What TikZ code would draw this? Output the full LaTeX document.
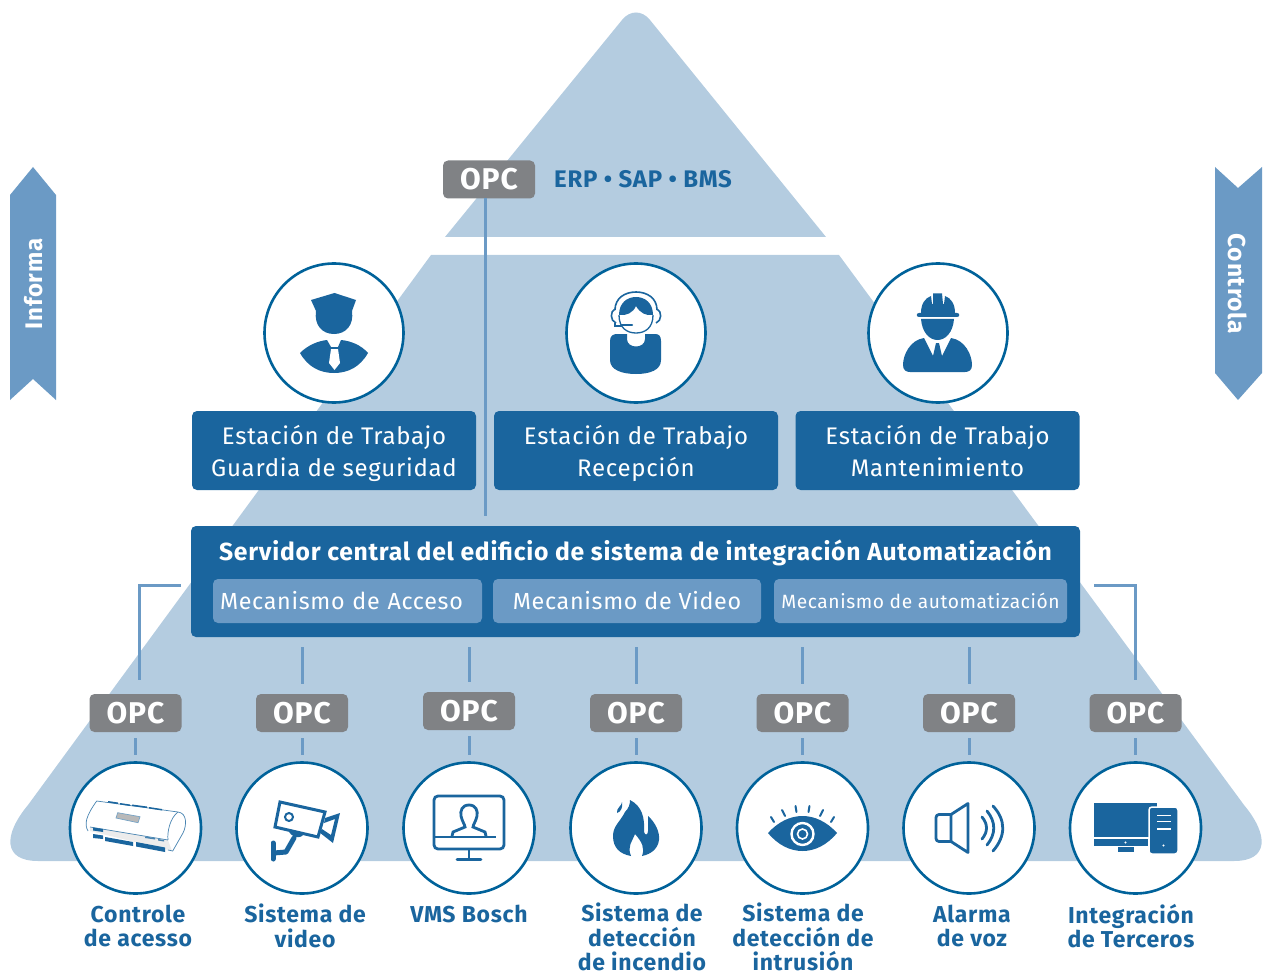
\documentclass[tikz,border=0pt]{standalone}
\usepackage{fontspec}
\setmainfont{Fira Sans}
\newfontfamily\spacedfont[LetterSpace=3]{Fira Sans}
\usetikzlibrary{positioning}
\definecolor{darkblue}{HTML}{1A659E}
\definecolor{ringblue}{HTML}{00629A}
\definecolor{midblue}{HTML}{6B9AC5}
\definecolor{paleblue}{HTML}{B4CCE0}
\definecolor{opcgrey}{HTML}{808285}
\newcommand{\firstline}{\rule{0pt}{30.4pt}}
\tikzset{
	opcbox/.style={fill=opcgrey, rounded corners=5pt, minimum width=92pt, minimum height=38pt, inner sep=0pt, text=white, font=\fontsize{30}{32}\selectfont\spacedfont\bfseries},
	wsbox/.style={fill=darkblue, rounded corners=5pt, minimum width=284pt, minimum height=79pt, inner sep=0pt, text=white, align=center, font=\fontsize{24}{32}\selectfont\spacedfont},
	enginebox/.style={fill=midblue, rounded corners=5pt, minimum height=44pt, inner sep=0pt, text=white, font=\fontsize{23.3}{26}\selectfont\spacedfont},
	topring/.style={circle, draw=ringblue, line width=2.6pt, fill=white, minimum size=139pt, inner sep=0pt},
	lowring/.style={circle, draw=ringblue, line width=2.6pt, fill=white, minimum size=131pt, inner sep=0pt},
	syslabel/.style={text=darkblue, align=center, font=\fontsize{23}{24.5}\selectfont\spacedfont\bfseries, inner sep=0pt},
	wire/.style={draw=midblue, line width=3pt},
}
\begin{document}
\begin{tikzpicture}[x=1pt,y=-1pt]
	\useasboundingbox (0,0) rectangle (1268,973);
	% Pyramid
	\fill[paleblue] (445,237) -- (622,20) .. controls (630,10) and (642,10) .. (650,20) -- (826,237) -- cycle;
	\fill[paleblue] (431,255) -- (839,255) -- (1244,805) .. controls (1269,835) and (1269,861) .. (1234,861)
		-- (38,861) .. controls (3,861) and (3,835) .. (28,805) -- cycle;

	% Side arrows
	\fill[midblue] (10,195) -- (33,167) -- (56,195) -- (56,400) -- (33,379) -- (10,400) -- cycle;
	\node (informa) at (34,284) [rotate=90, text=white, font=\fontsize{24}{26}\selectfont\spacedfont\bfseries] {Informa};
	\fill[midblue] (1215,167) -- (1238,188) -- (1262,167) -- (1262,373) -- (1238,400) -- (1215,373) -- cycle;
	\node (controla) at (1238,284) [rotate=-90, text=white, font=\fontsize{24.5}{26}\selectfont\spacedfont\bfseries] {Controla};

	% Top
	\node[opcbox] (opcTop) at (489,179.5) {OPC};
	\node (erp) at (554,179) [anchor=west, inner sep=0pt, text=darkblue, font=\fontsize{24}{26}\selectfont\spacedfont\bfseries] {ERP • SAP • BMS};

	% Workstations
	\node[topring] (ringGuard) at (334,333) {};
	\node[topring] (ringDesk) at (636,333) {};
	\node[topring] (ringWorker) at (938,333) {};
	\node[wsbox] (wsGuard) at (334,450.5) {\firstline Estación de Trabajo\\\strut Guardia de seguridad};
	\node[wsbox] (wsDesk) at (636,450.5) {\firstline Estación de Trabajo\\\strut Recepción};
	\node[wsbox] (wsWorker) at (937.5,450.5) {\firstline Estación de Trabajo\\\strut Mantenimiento};

	% Server
	\node[fill=darkblue, rounded corners=5pt, minimum width=889pt, minimum height=111pt, inner sep=0pt] (server) at (635.5,581.5) {};
	\node (serverTitle) at (635.5,552.5) [inner sep=0pt, text=white, font=\fontsize{24.7}{26}\selectfont\spacedfont\bfseries] {Servidor central del edificio de sistema de integración Automatización};
	\node[enginebox, minimum width=269pt, text width=255pt, align=left] (engAccess) at (347.5,601) {Mecanismo de Acceso};
	\node[enginebox, minimum width=268pt] (engVideo) at (627,601) {Mecanismo de Video};
	\node[enginebox, minimum width=293pt, font=\fontsize{19.2}{21}\selectfont\spacedfont] (engAuto) at (920.5,601) {Mecanismo de automatización};

	% Link from the top OPC to the server
	\coordinate (tapTop) at (485,198);
	\coordinate (tapServer) at (485,516);
	\draw[wire] (tapTop) -- (tapServer);

	% Lower row
	\foreach \name/\xpos/\ypos in {A/135.5/713, B/302/713, C/469/711, D/636/713, E/802.5/713, F/969/713, G/1135.5/713} {
		\node[opcbox] (opc\name) at (\xpos,\ypos) {OPC};
	}
	\foreach \name/\xpos in {A/135.5, B/302, C/469, D/636, E/802.5, F/969, G/1135.5} {
		\node[lowring] (ring\name) at (\xpos,828) {};
		\draw[wire, shorten <=6pt, shorten >=6.5pt] (opc\name.south) -- (ring\name.north);
	}
	\foreach \name in {B,C,D,E,F} {
		\draw[wire, shorten <=10pt, shorten >=10pt] (opc\name.north) -- (opc\name.north |- server.south);
	}
	% Elbows at the ends
	\coordinate (elbowLa) at (181,585);
	\coordinate (elbowLb) at (139.5,680);
	\coordinate (elbowRa) at (1094,585);
	\coordinate (elbowRb) at (1135,680);
	\draw[wire] (elbowLa) -| (elbowLb);
	\draw[wire] (elbowRa) -| (elbowRb);

	% Labels
	\node[syslabel] (labelA) at (138,926) {Controle\\de acesso};
	\node[syslabel] (labelB) at (305,926) {Sistema de\\video};
	\node[syslabel] (labelC) at (469,913.5) {VMS Bosch};
	\node[syslabel] (labelD) at (642,937) {Sistema de\\detección\\de incendio};
	\node[syslabel] (labelE) at (803,937) {Sistema de\\detección de\\intrusión};
	\node[syslabel] (labelF) at (972,926) {Alarma\\de voz};
	\node[syslabel] (labelG) at (1131,926) {Integración\\de Terceros};

	% Icon: guard
	\fill[darkblue] (334.5,293) -- (356,300) -- (352,311) .. controls (354,325) and (346,334) .. (334,334)
		.. controls (322,334) and (314,325) .. (316,311) -- (311,300) -- cycle;
	\fill[darkblue] (300,353) .. controls (308,345) and (318,341) .. (327,340) -- (331,347) -- (338,347) -- (341,340)
		.. controls (351,341) and (361,345) .. (368,353) .. controls (360,367) and (348,373) .. (334,373)
		.. controls (320,373) and (308,367) .. (300,353) -- cycle;
	\fill[white] (331,349) -- (338,349) -- (340,363) -- (334.5,370) -- (329,363) -- cycle;

	% Icon: reception
	\fill[darkblue] (610,341) .. controls (610,336) and (613,334) .. (617,334) -- (627,334) -- (627,339)
		.. controls (627,349) and (645,349) .. (645,339) -- (645,334) -- (655,334) .. controls (659,334) and (661,336) .. (661,341)
		-- (661,360) .. controls (661,370) and (650,374) .. (636,374) .. controls (622,374) and (610,370) .. (610,360) -- cycle;
	\fill[darkblue] (619,315) .. controls (619,303) and (627,297) .. (636,297) .. controls (645,297) and (653,303) .. (653,315)
		.. controls (646,316) and (640,313) .. (636,306) .. controls (633,313) and (626,316) .. (619,315) -- cycle;
	\draw[darkblue, line width=1.3pt] (619,315) .. controls (619,328) and (627,333) .. (636,333) .. controls (645,333) and (653,328) .. (653,315);
	\draw[darkblue, line width=1.6pt] (615,310) .. controls (615,298) and (625,292) .. (636,292) .. controls (647,292) and (657,298) .. (657,310);
	\draw[darkblue, line width=1.6pt] (615,309) .. controls (610,311) and (610,321) .. (616,323);
	\draw[darkblue, line width=1.6pt] (657,309) .. controls (662,311) and (662,321) .. (656,323);
	\draw[darkblue, line width=1.6pt] (615,323) -- (615,326) -- (622,326);
	\draw[darkblue, line width=2pt, line cap=round] (621,325.5) -- (632,325.5);

	% Icon: maintenance
	\fill[darkblue] (919,313) -- (957,313) .. controls (960,313) and (960,317) .. (957,317) -- (919,317) .. controls (916,317) and (916,313) .. (919,313) -- cycle;
	\fill[darkblue] (921,313) .. controls (921,304) and (925,298) .. (931,296) -- (932,304) -- (933,304) -- (933,293.5) -- (942,293.5) -- (943,304) -- (944,304) -- (945,296)
		.. controls (951,298) and (955,304) .. (955,313) -- cycle;
	\fill[darkblue] (921,319) -- (954,319) .. controls (953,332) and (946,340) .. (937.5,340) .. controls (929,340) and (922,332) .. (921,319) -- cycle;
	\fill[darkblue] (924,338) -- (933,356) -- (936,343) -- (939,343) -- (942,356) -- (951,338)
		.. controls (965,340) and (972,355) .. (972,365) .. controls (972,370) and (969,372) .. (965,372)
		-- (910,372) .. controls (906,372) and (903,370) .. (903,365) .. controls (903,355) and (910,340) .. (924,338) -- cycle;

	% Icon: access controller
	\begin{scope}[draw=darkblue!80, line width=0.7pt]
		\fill[gray!15] (90,827) -- (168,840) -- (172,851) -- (90,831) -- cycle;
		\draw (96.7,801) -- (178,812) .. controls (187,813) and (187,825) .. (183,833) -- (172.7,851)
			-- (168,850) (88,831) .. controls (84,824) and (86,816) .. (96.7,801);
		\draw (90,827) -- (168,840) (178,812) .. controls (170,818) and (167,832) .. (168,840);
		\fill[gray!55, draw=darkblue!60] (117.7,812.7) -- (140,816.7) -- (138,822.7) -- (116,818) -- cycle;
		\fill[darkblue] (108,801) -- (118,802.5) -- (118,804) -- (108,802.5) -- cycle;
		\fill[darkblue] (120,803) -- (130,804.5) -- (130,806) -- (120,804.5) -- cycle;
		\fill[darkblue] (132,804.5) -- (147,806.5) -- (147,808) -- (132,806) -- cycle;
		\fill[darkblue] (149,807) -- (162,809) -- (162,810.5) -- (149,808.5) -- cycle;
		\fill[darkblue] (93,827.5) -- (103,829) -- (103,832) -- (93,830.5) -- cycle;
		\fill[darkblue] (93,834) -- (103,835.5) -- (103,839) -- (93,838) -- cycle;
		\fill[darkblue] (105,837) -- (133,842) -- (133,846) -- (105,841) -- cycle;
		\fill[darkblue] (136,842) -- (165,847.5) -- (165,852) -- (136,846.5) -- cycle;
		\fill[darkblue!80] (145,836.5) -- (155,838) -- (155,839.5) -- (145,838) -- cycle;
		\fill[darkblue!80] (158,839) -- (164,840) -- (164,841.5) -- (158,840.5) -- cycle;
	\end{scope}

	% Icon: camera
	\begin{scope}[darkblue, line width=3pt]
		\draw (280,802) -- (325,812) -- (318,837) -- (275,827) -- cycle;
		\fill (325,818) -- (340,813) -- (333,843) -- (319,832) -- (322,829) -- (331,835) -- (335,819) -- (324,823) -- cycle;
		\draw[line width=2pt] (289,817) circle (4);
		\draw[line width=5pt, line cap=round] (273,843) -- (273,859);
		\draw[line width=5pt, line cap=round, line join=round] (274,853) -- (286,852) -- (294,838);
		\fill (288,829) .. controls (290,838) and (302,840) .. (304,833) -- cycle;
	\end{scope}

	% Icon: VMS
	\begin{scope}[draw=darkblue, line width=2.8pt]
		\draw[rounded corners=4pt] (434,796) rectangle (504,849);
		\draw (434,837) -- (496,837);
		\draw (469,850) -- (469,859);
		\draw[line cap=round] (457,859.5) -- (481,859.5);
		\draw (469,805) .. controls (462,805) and (460,811) .. (461,816) .. controls (462,821) and (465,825) .. (465,827) -- (453,832) -- (452,836);
		\draw (469,805) .. controls (476,805) and (478,811) .. (477,816) .. controls (476,821) and (473,825) .. (473,827) -- (485,832) -- (486,836);
	\end{scope}

	% Icon: flame
	\fill[darkblue] (630,800) .. controls (642,806) and (645,818) .. (644,832) .. controls (645,836) and (648,835) .. (648,831) -- (648,816)
		.. controls (655,822) and (660,832) .. (659,840) .. controls (658,848) and (652,854) .. (642,856)
		.. controls (645,848) and (642,842) .. (635,834) .. controls (632,842) and (627,846) .. (631,856)
		.. controls (620,854) and (613,848) .. (613,836) .. controls (613,826) and (620,822) .. (625,812) .. controls (629,808) and (630,804) .. (630,800) -- cycle;
	\fill[darkblue] (622,802) .. controls (622,806) and (616,808) .. (617,813) .. controls (621,812) and (623,807) .. (622,802) -- cycle;

	% Icon: eye
	\fill[darkblue] (768,833) .. controls (778,822) and (790,816) .. (802.5,816) .. controls (815,816) and (827,822) .. (837,833)
		.. controls (827,845) and (815,851) .. (802.5,851) .. controls (790,851) and (778,845) .. (768,833) -- cycle;
	\draw[white, line width=2.4pt] (802.5,834) circle (11);
	\draw[white, line width=1.6pt] (802.5,834) circle (5);
	\foreach \xa/\ya/\xb/\yb in {771/817/774/822, 782/810/785/816, 795.5/806/796.5/812, 809.5/806/808.5/812, 823/810/820/816, 834/817/831/822} {
		\draw[darkblue, line width=2pt, line cap=round] (\xa,\ya) -- (\xb,\yb);
	}

	% Icon: speaker
	\begin{scope}[draw=darkblue, line width=2.8pt, line join=round]
		\draw[rounded corners=3pt] (952,814.5) -- (936,814.5) -- (936,841.5) -- (952,841.5);
		\draw (951,814.5) -- (968,803.5) -- (968,852.5) -- (951,841.5) -- cycle;
		\draw[line cap=round] (982,817) .. controls (988,824) and (988,832) .. (982,839);
		\draw[line cap=round] (987,811) .. controls (996,822) and (996,834) .. (987,845);
		\draw[line cap=round] (993,806) .. controls (1006,820) and (1006,836) .. (993,851);
	\end{scope}

	% Icon: third party
	\fill[darkblue] (1094,803) rectangle (1157,837);
	\fill[darkblue] (1094,839) rectangle (1148,846);
	\fill[darkblue] (1118,847) rectangle (1134,852);
	\fill[white] (1125.5,842.5) circle (1.2);
	\fill[darkblue, draw=white, line width=1.5pt, rounded corners=3pt] (1149,807) rectangle (1178,854);
	\draw[white, line width=1.4pt] (1157,815.5) -- (1171,815.5) (1157,821.5) -- (1171,821.5) (1157,829) -- (1171,829);
	\fill[white] (1163.5,845.5) circle (1.2);
\end{tikzpicture}
\end{document}
